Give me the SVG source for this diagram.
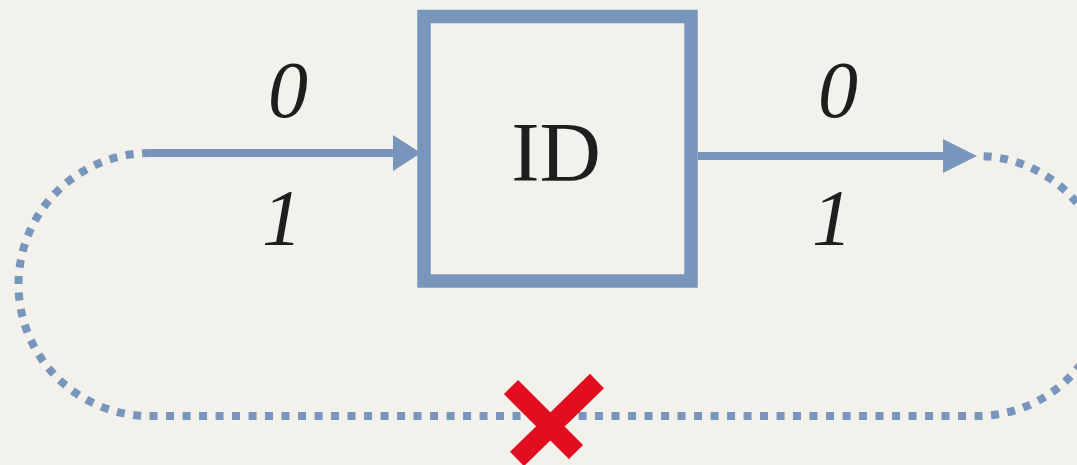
<svg xmlns="http://www.w3.org/2000/svg" width="1077" height="465" viewBox="0 0 1077 465">
<defs>
<style>
.wire{fill:none;stroke:#7896BC;stroke-width:8}
.dots{fill:none;stroke:#7896BC;stroke-width:8;stroke-dasharray:8 8.5}
.head{fill:#7896BC}
.lbl{font-family:"Liberation Serif",serif;font-style:italic;font-size:80px;fill:#1e1e1e;text-anchor:middle}
.box{fill:none;stroke:#7896BC;stroke-width:13.5}
.name{font-family:"Liberation Serif",serif;font-size:85px;fill:#1e1e1e;text-anchor:middle}
</style>
</defs>
<rect x="0" y="0" width="1077" height="465" fill="#F3F1EC"/>
<g id="connectors">
<path class="dots" d="M150,153 A131.5,131.5 0 0 0 150,416 L977,416 A130,130 0 0 0 977,156"/>
<line class="wire" x1="148" y1="153" x2="396" y2="153"/>
<polygon class="head" points="393,135 421,153 393,171"/>
<line class="wire" x1="698" y1="156" x2="946" y2="156"/>
<polygon class="head" points="943,139 977,156 943,173"/>
<text class="lbl" x="288" y="117">0</text>
<text class="lbl" x="282" y="245">1</text>
<text class="lbl" x="838" y="117">0</text>
<text class="lbl" x="832" y="245">1</text>
</g>
<g id="node-id">
<rect class="box" x="424" y="16.5" width="267" height="264.5"/>
<text class="name" x="556" y="181">ID</text>
</g>
<g id="cross">
<line x1="511" y1="387" x2="576" y2="452" stroke="#E20D1F" stroke-width="20"/>
<line x1="597" y1="381" x2="517" y2="459" stroke="#E20D1F" stroke-width="20"/>
</g>
</svg>
